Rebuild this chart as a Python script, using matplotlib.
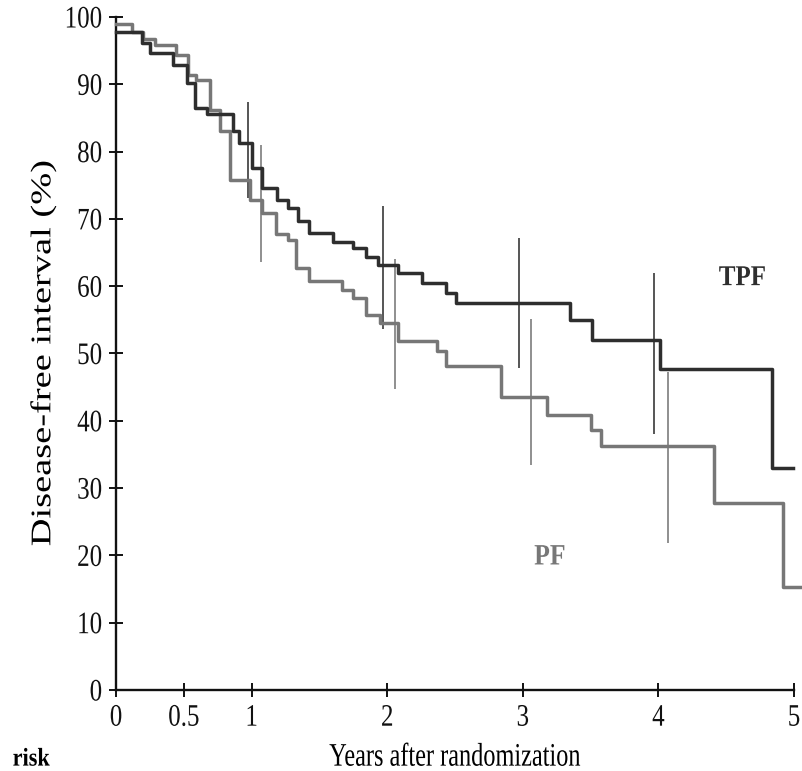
import matplotlib
matplotlib.use("Agg")
import matplotlib.pyplot as plt
from matplotlib.patheffects import AbstractPathEffect
from matplotlib.transforms import Affine2D

# TPF (dark) Kaplan-Meier steps: time (years), disease-free (%)
tpf_t = [0.0, 0.19, 0.25, 0.42, 0.52, 0.58, 0.67, 0.86, 0.91, 1.00, 1.08, 1.19,
         1.27, 1.34, 1.42, 1.60, 1.75, 1.84, 1.93, 2.08, 2.26, 2.43, 2.51, 3.35,
         3.51, 4.01, 4.84, 4.99]
tpf_s = [97.8, 96.1, 94.6, 92.9, 90.2, 86.5, 85.6, 83.0, 81.3, 77.6, 74.6, 72.8,
         71.6, 69.7, 67.9, 66.5, 65.7, 64.4, 63.2, 62.0, 60.5, 59.0, 57.5, 55.0,
         52.0, 47.7, 33.0, 33.0]

# PF (grey) Kaplan-Meier steps
pf_t = [0.0, 0.12, 0.20, 0.29, 0.44, 0.53, 0.59, 0.69, 0.77, 0.84, 0.99, 1.08,
        1.18, 1.27, 1.33, 1.42, 1.67, 1.75, 1.84, 1.95, 2.08, 2.37, 2.43, 2.84,
        3.18, 3.50, 3.58, 4.41, 4.92, 5.07]
pf_s = [99.0, 97.7, 96.7, 95.8, 94.4, 91.4, 90.6, 86.2, 83.0, 75.8, 72.8, 70.9,
        67.8, 66.9, 62.7, 60.7, 59.5, 58.3, 55.7, 54.5, 51.8, 50.3, 48.1, 43.6,
        40.9, 38.7, 36.2, 27.8, 15.3, 15.3]

# Confidence interval bars at 1-4 years
tpf_ci_t = [0.97, 1.97, 2.97, 3.97]
tpf_ci_lo = [73.1, 53.7, 47.8, 38.0]
tpf_ci_hi = [87.4, 71.9, 67.1, 61.9]
pf_ci_t = [1.07, 2.06, 3.06, 4.07]
pf_ci_lo = [63.6, 44.7, 33.4, 21.8]
pf_ci_hi = [81.0, 64.1, 55.1, 47.2]

x_ticks = [0, 0.5, 1, 2, 3, 4, 5]
x_tick_labels = ["0", "0.5", "1", "2", "3", "4", "5"]
y_ticks = list(range(0, 101, 10))


class VStretch(AbstractPathEffect):
    """Stretch rendered text vertically (in display space) about its centre."""
    def __init__(self, k):
        super().__init__()
        self.k = k

    def draw_path(self, renderer, gc, tpath, affine, rgbFace=None):
        ext = tpath.transformed(affine).get_extents()
        cx = 0.5 * (ext.x0 + ext.x1)
        cy = 0.5 * (ext.y0 + ext.y1)
        new = affine + Affine2D().translate(-cx, -cy).scale(1, self.k).translate(cx, cy)
        renderer.draw_path(gc, tpath, new, rgbFace)


plt.rcParams['font.family'] = ['Liberation Serif', 'DejaVu Serif']

fig = plt.figure(figsize=(8.03, 7.71), dpi=100)
ax = fig.add_axes([0.1445, 0.1051, 0.9888 - 0.1445, 0.978 - 0.1051])

ax.vlines(tpf_ci_t, tpf_ci_lo, tpf_ci_hi, color="#555555", lw=1.4, zorder=3)
ax.vlines(pf_ci_t, pf_ci_lo, pf_ci_hi, color="#8f8f8f", lw=1.4, zorder=3)

ax.step(pf_t, pf_s, where="post", color="#777777", lw=2.5, clip_on=False, zorder=4)
ax.step(tpf_t, tpf_s, where="post", color="#2e2e2e", lw=2.5, clip_on=False, zorder=5)

ax.set_xlim(0, 5)
ax.set_ylim(0, 100)
for s in ["top", "right"]:
    ax.spines[s].set_visible(False)
for s in ["left", "bottom"]:
    ax.spines[s].set_linewidth(1.7)
    ax.spines[s].set_color("#111111")

ax.set_xticks(x_ticks)
ax.set_xticklabels(x_tick_labels)
ax.set_yticks(y_ticks)
ax.tick_params(direction="inout", length=10, width=1.4, labelsize=18, colors="#111111")
ax.tick_params(axis="x", pad=7)
ax.tick_params(axis="y", pad=5)

stretch = [VStretch(1.25)]
for lab in ax.get_xticklabels() + ax.get_yticklabels():
    lab.set_path_effects(stretch)

xl = ax.set_xlabel("Years after randomization", fontsize=17.5, labelpad=13)
xl.set_path_effects([VStretch(1.35)])
yl = ax.set_ylabel("Disease-free interval (%)", fontsize=20.5, labelpad=6)
yl.set_path_effects([VStretch(1.35)])

t1 = ax.text(4.62, 61.3, "TPF", fontsize=18, fontweight="bold", color="#2e2e2e",
             ha="center", va="center")
t2 = ax.text(3.2, 19.8, "PF", fontsize=18.5, fontweight="bold", color="#777777",
             ha="center", va="center")
t1.set_path_effects([VStretch(1.15)])
t2.set_path_effects([VStretch(1.15)])
t3 = fig.text(0.039, 0.002, "risk", fontsize=16, fontweight="bold", ha="center", va="bottom")
t3.set_path_effects([VStretch(1.15)])

fig.savefig("out.png", dpi=100)
